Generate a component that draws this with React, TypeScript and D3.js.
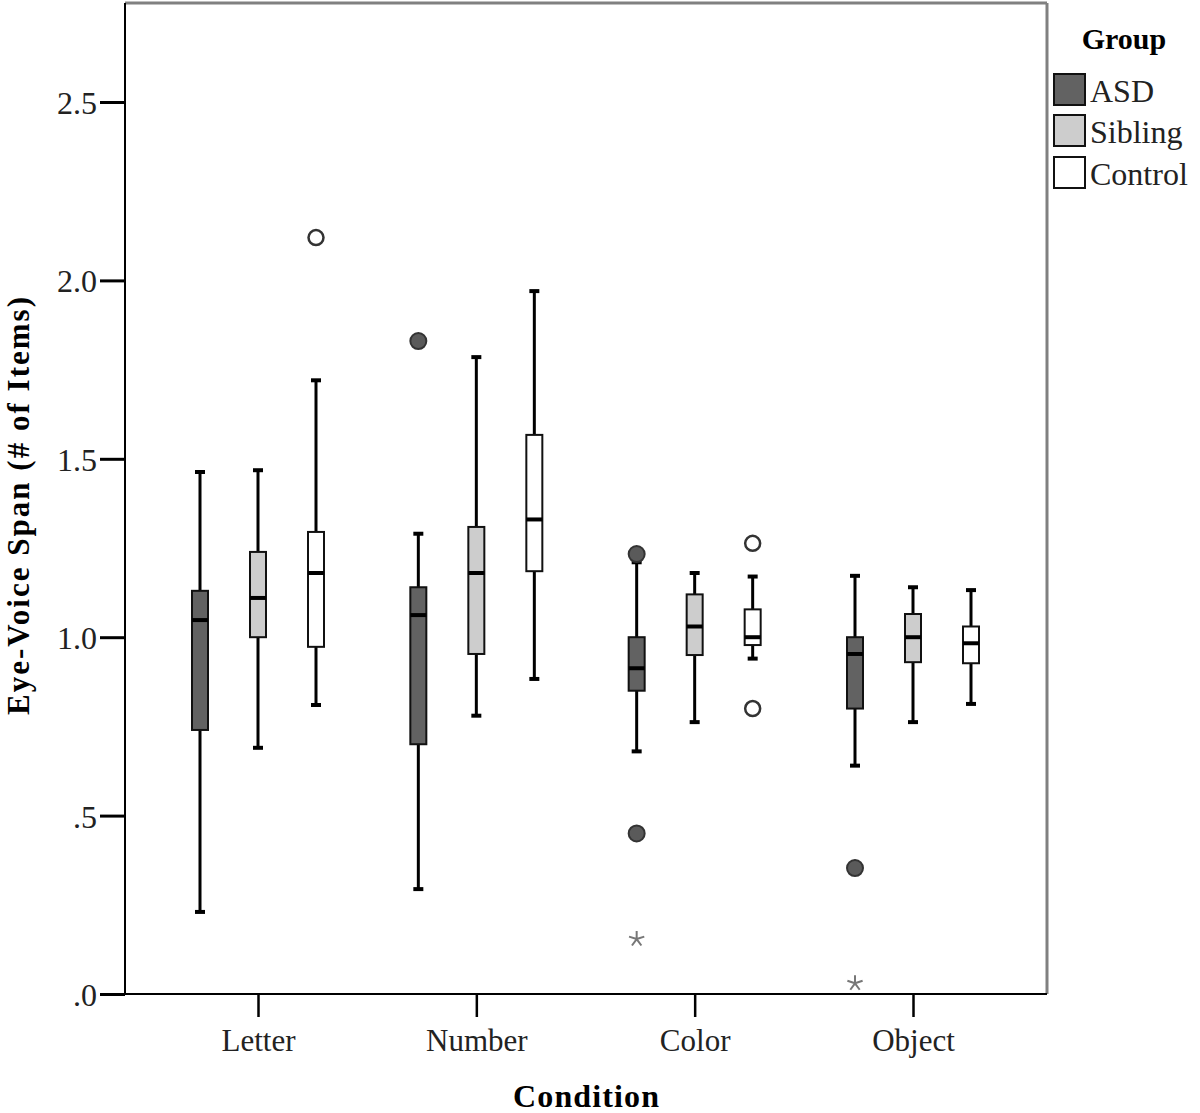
import { useEffect, useRef } from 'react';
import * as d3 from 'd3';

const conditions = ['Letter', 'Number', 'Color', 'Object'];
const groups = ['ASD', 'Sibling', 'Control'];
const groupFill = ['#626262', '#cdcdcd', '#ffffff'];
const yTicks = [0, 0.5, 1.0, 1.5, 2.0, 2.5];
const yTickLabels = ['.0', '.5', '1.0', '1.5', '2.0', '2.5'];

// [lower whisker, Q1, median, Q3, upper whisker] per condition, per group
const asdBoxes = [
  [0.23, 0.74, 1.048, 1.13, 1.463],
  [0.294, 0.70, 1.062, 1.14, 1.29],
  [0.68, 0.85, 0.913, 1.0, 1.21],
  [0.64, 0.80, 0.953, 1.0, 1.172],
];
const siblingBoxes = [
  [0.69, 1.0, 1.11, 1.239, 1.468],
  [0.78, 0.953, 1.18, 1.309, 1.785],
  [0.762, 0.95, 1.03, 1.12, 1.18],
  [0.762, 0.93, 1.0, 1.065, 1.14],
];
const controlBoxes = [
  [0.81, 0.973, 1.18, 1.295, 1.72],
  [0.883, 1.185, 1.33, 1.567, 1.97],
  [0.94, 0.978, 1.0, 1.078, 1.17],
  [0.813, 0.927, 0.983, 1.03, 1.132],
];

// outliers: [condition, group, value]
const circleOutliers: [number, number, number][] = [
  [0, 2, 2.12],
  [1, 0, 1.83],
  [2, 0, 1.233],
  [2, 0, 0.45],
  [2, 2, 1.263],
  [2, 2, 0.80],
  [3, 0, 0.353],
];
const extremeOutliers: [number, number, number][] = [
  [2, 0, 0.154],
  [3, 0, 0.03],
];

const W = 1200;
const H = 1113;
const serif = '"Liberation Serif", "DejaVu Serif", serif';

export default function App() {
  const svgRef = useRef<SVGSVGElement>(null);

  useEffect(() => {
    const svg = d3.select(svgRef.current);
    svg.selectAll('*').remove();

    const left = 125;
    const right = 1047;
    const top = 3;
    const bottom = 994;

    const y = d3.scaleLinear().domain([0, 2.5]).range([bottom, 102]);
    const x = d3.scalePoint<string>()
      .domain(conditions)
      .range([258, 913]);
    const offset = d3.scalePoint<string>().domain(groups).range([-58, 58]);

    const allBoxes = [asdBoxes, siblingBoxes, controlBoxes];
    const boxW = 16;

    // frame
    svg.append('line').attr('x1', left).attr('x2', right).attr('y1', top).attr('y2', top)
      .attr('stroke', '#808080').attr('stroke-width', 3);
    svg.append('line').attr('x1', right).attr('x2', right).attr('y1', top).attr('y2', bottom)
      .attr('stroke', '#808080').attr('stroke-width', 3);

    // y axis
    const yAxis = svg.append('g').attr('transform', `translate(${left},0)`)
      .call(d3.axisLeft(y).tickValues(yTicks).tickSize(25).tickPadding(3)
        .tickFormat((d, i) => yTickLabels[i]));
    yAxis.select('.domain').attr('d', `M0,${top}V${bottom}`).attr('stroke', '#000').attr('stroke-width', 2);
    yAxis.selectAll('.tick line').attr('stroke', '#000').attr('stroke-width', 3);
    yAxis.selectAll('.tick text').attr('font-family', serif).attr('font-size', 32)
      .attr('fill', '#222').attr('dy', '0.36em');

    // x axis
    const xAxis = svg.append('g').attr('transform', `translate(0,${bottom})`)
      .call(d3.axisBottom(x).tickSize(23).tickPadding(12));
    xAxis.select('.domain').attr('d', `M${left - 25},0H${right}`).attr('stroke', '#000').attr('stroke-width', 2);
    xAxis.selectAll('.tick line').attr('stroke', '#000').attr('stroke-width', 2.5);
    xAxis.selectAll('.tick text').attr('font-family', serif).attr('font-size', 31).attr('fill', '#222');

    // axis titles
    svg.append('text').attr('x', 586).attr('y', 1107).attr('text-anchor', 'middle')
      .attr('font-family', serif).attr('font-size', 32).attr('font-weight', 'bold')
      .attr('textLength', 146).attr('lengthAdjust', 'spacing')
      .text('Condition');
    svg.append('text').attr('transform', 'translate(29,506) rotate(-90)').attr('text-anchor', 'middle')
      .attr('font-family', serif).attr('font-size', 31).attr('font-weight', 'bold')
      .attr('textLength', 418).attr('lengthAdjust', 'spacing')
      .text('Eye-Voice Span (# of Items)');

    // boxes
    const plot = svg.append('g');
    allBoxes.forEach((boxes, gi) => {
      boxes.forEach((b, ci) => {
        const cx = (x(conditions[ci]) ?? 0) + (offset(groups[gi]) ?? 0);
        const [lo, q1, med, q3, hi] = b;
        const g = plot.append('g');
        g.append('line').attr('x1', cx).attr('x2', cx).attr('y1', y(hi)).attr('y2', y(lo))
          .attr('stroke', '#000').attr('stroke-width', 3);
        [lo, hi].forEach(v => {
          g.append('line').attr('x1', cx - 5).attr('x2', cx + 5).attr('y1', y(v)).attr('y2', y(v))
            .attr('stroke', '#000').attr('stroke-width', 4);
        });
        g.append('rect').attr('x', cx - boxW / 2).attr('y', y(q3))
          .attr('width', boxW).attr('height', y(q1) - y(q3))
          .attr('fill', groupFill[gi]).attr('stroke', '#111').attr('stroke-width', 2);
        g.append('line').attr('x1', cx - boxW / 2).attr('x2', cx + boxW / 2)
          .attr('y1', y(med)).attr('y2', y(med)).attr('stroke', '#000').attr('stroke-width', 4);
      });
    });

    // outliers
    circleOutliers.forEach(([ci, gi, v]) => {
      const cx = (x(conditions[ci]) ?? 0) + (offset(groups[gi]) ?? 0);
      plot.append('circle').attr('cx', cx).attr('cy', y(v)).attr('r', gi === 0 ? 8 : 7.5)
        .attr('fill', gi === 0 ? '#5a5a5a' : '#fff')
        .attr('stroke', '#333').attr('stroke-width', gi === 0 ? 2 : 2.5);
    });
    // extreme values drawn as asterisks
    const star = d3.path();
    const sr = 8;
    for (let k = 0; k < 5; k++) {
      const a = -Math.PI / 2 + (k * 2 * Math.PI) / 5;
      star.moveTo(0, 0);
      star.lineTo(sr * Math.cos(a), sr * Math.sin(a));
    }
    extremeOutliers.forEach(([ci, gi, v]) => {
      const cx = (x(conditions[ci]) ?? 0) + (offset(groups[gi]) ?? 0);
      plot.append('path').attr('d', star.toString())
        .attr('transform', `translate(${cx},${y(v)})`)
        .attr('fill', 'none').attr('stroke', '#777').attr('stroke-width', 2);
    });

    // legend
    const legend = svg.append('g');
    legend.append('text').attr('x', 1124).attr('y', 49).attr('text-anchor', 'middle')
      .attr('font-family', serif).attr('font-size', 30).attr('font-weight', 'bold')
      .text('Group');
    const legendY = [74, 115, 157];
    groups.forEach((name, i) => {
      legend.append('rect').attr('x', 1054).attr('y', legendY[i]).attr('width', 31).attr('height', 31)
        .attr('fill', groupFill[i]).attr('stroke', '#111').attr('stroke-width', 2);
      legend.append('text').attr('x', 1090).attr('y', legendY[i] + 28)
        .attr('font-family', serif).attr('font-size', 32).attr('fill', '#222').text(name);
    });
  }, []);

  return (
    <svg ref={svgRef} width={W} height={H}
      style={{ position: 'absolute', left: 0, top: 0, background: '#fff' }} />
  );
}
